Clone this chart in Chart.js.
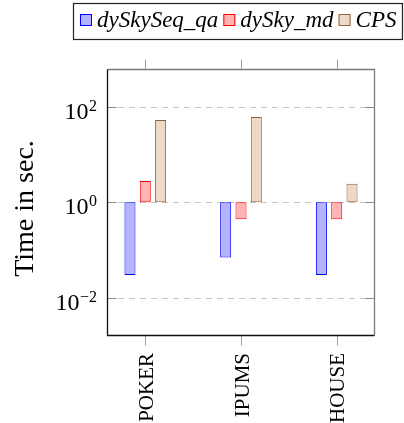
<!DOCTYPE html>
<html><head><meta charset="utf-8">
<script src="https://cdn.jsdelivr.net/npm/chart.js@4.4.0/dist/chart.umd.min.js"></script>
<style>html,body{margin:0;padding:0;background:#fff;}#wrap{width:404px;height:423px;}</style>
</head><body><div id="wrap"><canvas id="c" width="404" height="423"></canvas></div>
<script>
const categories = ['POKER', 'IPUMS', 'HOUSE'];
const seriesNames = ['dySkySeq_qa', 'dySky_md', 'CPS'];
const dySkySeq_qa = [0.030, 0.070, 0.030];
const dySky_md = [2.8, 0.44, 0.44];
const CPS = [53, 61, 2.45];
const yTickExponents = [-2, 0, 2];
const yTitle = 'Time in sec.';
const baseValue = 1;

const seriesValues = [dySkySeq_qa, dySky_md, CPS];
const fills = ['rgba(179,179,255,1)', 'rgba(255,179,179,1)', 'rgba(236,217,198,1)'];
const strokes = ['#0000ff', '#ff0000', '#8a6440'];

const datasets = seriesNames.map((name, s) => ({
  label: name,
  data: seriesValues[s].map((v, i) => ({ x: i, y: [baseValue, v] })),
  backgroundColor: fills[s],
  borderColor: strokes[s],
  borderWidth: 1,
  borderSkipped: false,
  categoryPercentage: 0.48,
  barPercentage: 0.72
}));

const SERIF = '"Liberation Serif", "Times New Roman", serif';

const decor = {
  id: 'decor',
  beforeDatasetsDraw(chart) {
    const { ctx, chartArea: a, scales: { y } } = chart;
    ctx.save();
    ctx.strokeStyle = '#c4c4c4';
    ctx.lineWidth = 1;
    ctx.setLineDash([6, 5]);
    yTickExponents.forEach(e => {
      const py = Math.round(y.getPixelForValue(Math.pow(10, e))) + 0.5;
      ctx.beginPath(); ctx.moveTo(a.left, py); ctx.lineTo(a.right, py); ctx.stroke();
    });
    ctx.restore();
  },
  afterDatasetsDraw(chart) {
    const { ctx, chartArea: a, scales: { x, y } } = chart;
    ctx.save();
    const L = Math.round(a.left) + 0.5, R = Math.round(a.right) - 0.5;
    const T = Math.round(a.top) + 0.5, B = Math.round(a.bottom) - 0.5;
    ctx.lineWidth = 1;
    ctx.strokeStyle = '#a0a0a0';
    categories.forEach((c, i) => {
      const px = Math.round(x.getPixelForValue(i)) + 0.5;
      ctx.beginPath(); ctx.moveTo(px, T - 10); ctx.lineTo(px, T); ctx.stroke();
      ctx.beginPath(); ctx.moveTo(px, B); ctx.lineTo(px, B + 10); ctx.stroke();
    });
    ctx.strokeStyle = '#8a8a8a';
    yTickExponents.forEach(e => {
      const py = Math.round(y.getPixelForValue(Math.pow(10, e))) + 0.5;
      ctx.beginPath(); ctx.moveTo(L, py); ctx.lineTo(L + 9, py); ctx.stroke();
      ctx.beginPath(); ctx.moveTo(R - 9, py); ctx.lineTo(R, py); ctx.stroke();
    });
    ctx.lineWidth = 1.3;
    ctx.strokeStyle = '#7a7a7a';
    ctx.beginPath(); ctx.moveTo(L, T); ctx.lineTo(R, T); ctx.lineTo(R, B); ctx.stroke();
    ctx.strokeStyle = '#111';
    ctx.beginPath(); ctx.moveTo(L, T); ctx.lineTo(L, B); ctx.lineTo(R, B); ctx.stroke();

    ctx.fillStyle = '#000';
    yTickExponents.forEach(e => {
      const py = y.getPixelForValue(Math.pow(10, e));
      const expStr = e < 0 ? '\u2212' + Math.abs(e) : String(e);
      ctx.font = '24px ' + SERIF;
      const w10 = ctx.measureText('10').width;
      ctx.font = '16px ' + SERIF;
      const we = ctx.measureText(expStr).width;
      const xr = a.left - 10;
      const x0 = xr - we - w10 - 0.5;
      ctx.textAlign = 'left'; ctx.textBaseline = 'alphabetic';
      ctx.font = '24px ' + SERIF;
      ctx.fillText('10', x0, py + 12);
      ctx.font = '16px ' + SERIF;
      ctx.fillText(expStr, x0 + w10 + 0.5, py + 4);
    });
    ctx.font = '21px ' + SERIF;
    categories.forEach((c, i) => {
      const px = x.getPixelForValue(i);
      ctx.save();
      ctx.translate(px + 7.5, a.bottom + 17);
      ctx.rotate(-Math.PI / 2);
      ctx.textAlign = 'right'; ctx.textBaseline = 'alphabetic';
      ctx.fillText(c, 0, 0);
      ctx.restore();
    });
    ctx.save();
    ctx.font = '28px ' + SERIF;
    ctx.translate(33, (a.top + a.bottom) / 2 + 6);
    ctx.rotate(-Math.PI / 2);
    ctx.textAlign = 'center'; ctx.textBaseline = 'alphabetic';
    ctx.fillText(yTitle, 0, 0);
    ctx.restore();
    ctx.font = 'italic 23px ' + SERIF;
    let lx = 80;
    const base = 27;
    chart.data.datasets.forEach((ds, s) => {
      ctx.fillStyle = ds.backgroundColor;
      ctx.fillRect(lx, 14, 12, 12);
      ctx.strokeStyle = ds.borderColor;
      ctx.lineWidth = 1;
      ctx.strokeRect(lx + 0.5, 14.5, 11, 11);
      ctx.fillStyle = '#000';
      ctx.textAlign = 'left'; ctx.textBaseline = 'alphabetic';
      ctx.fillText(ds.label, lx + 17, base);
      lx += 17 + ctx.measureText(ds.label).width + 5;
    });
    ctx.strokeStyle = '#222';
    ctx.lineWidth = 1.2;
    ctx.strokeRect(73.5, 3.5, Math.min(lx + 1, 402.5) - 73.5, 36);
    ctx.restore();
  }
};

new Chart(document.getElementById('c'), {
  type: 'bar',
  data: { datasets },
  options: {
    responsive: false,
    devicePixelRatio: 1,
    animation: false,
    layout: { padding: { left: 107, right: 29, top: 69, bottom: 87 } },
    plugins: { legend: { display: false }, tooltip: { enabled: false } },
    scales: {
      x: {
        type: 'linear', display: false, offset: false, grid: { offset: false },
        min: -0.4, max: 2.4,
        afterBuildTicks: s => { s.ticks = categories.map((c, i) => ({ value: i })); }
      },
      y: {
        type: 'logarithmic', display: false,
        min: Math.pow(10, -2.8), max: Math.pow(10, 2.79),
        afterBuildTicks: s => { s.ticks = yTickExponents.map(e => ({ value: Math.pow(10, e) })); }
      }
    }
  },
  plugins: [decor]
});
</script></body></html>
